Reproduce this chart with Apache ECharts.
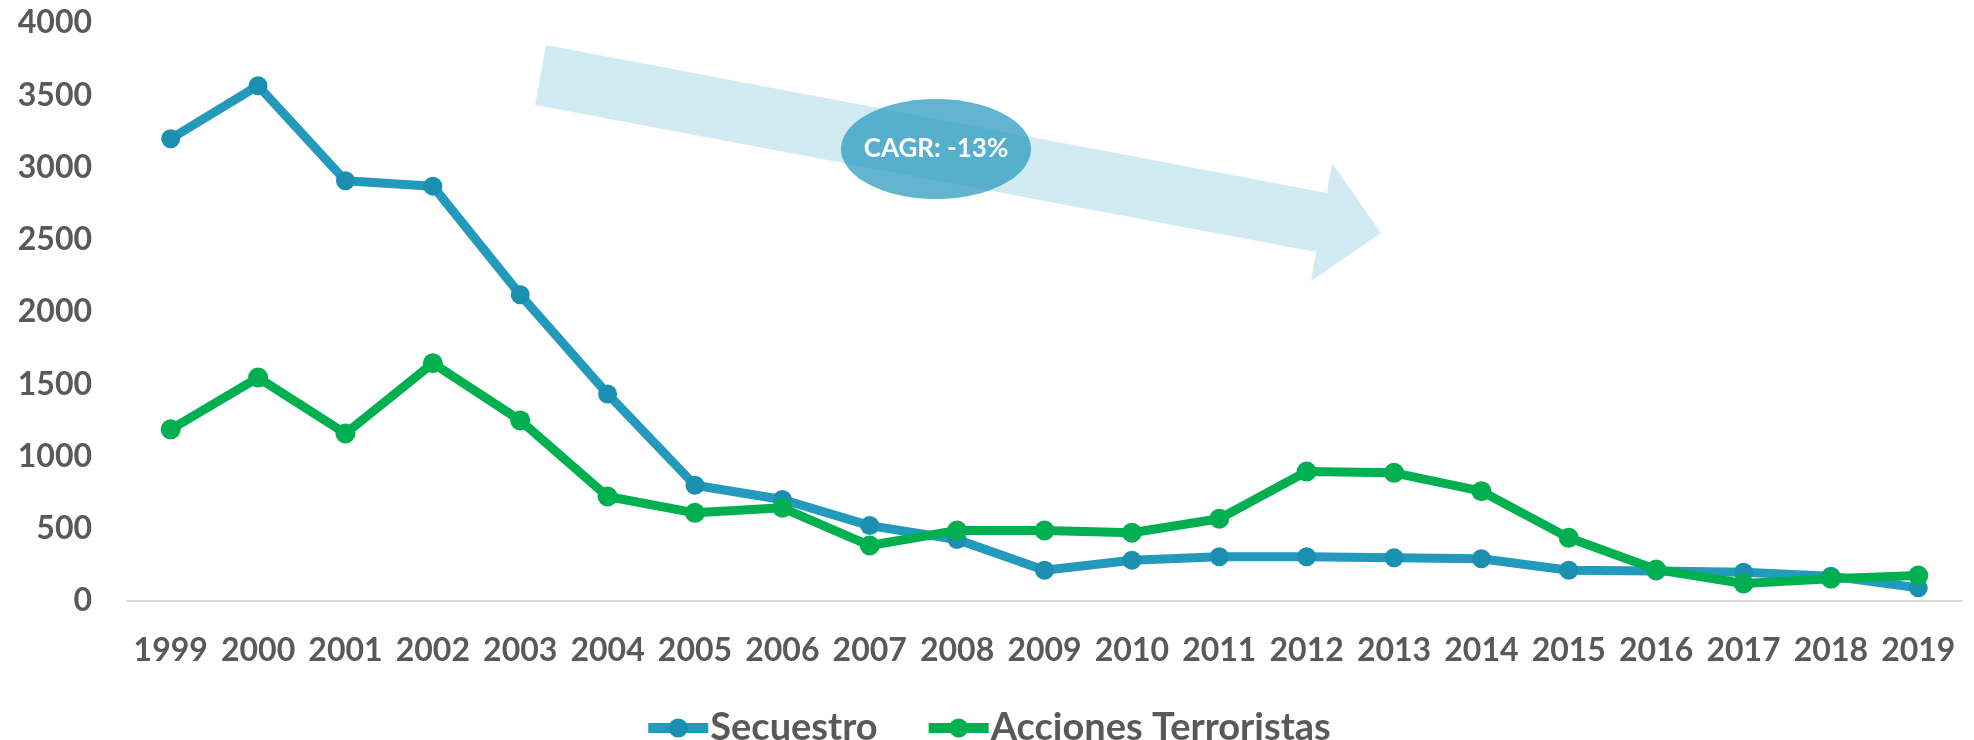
<!DOCTYPE html>
<html>
<head>
<meta charset="utf-8">
<script src="https://cdn.jsdelivr.net/npm/echarts@6/dist/echarts.min.js"></script>
<style>
html,body{margin:0;padding:0;background:#fff;}
#chart{width:1974px;height:740px;}
</style>
</head>
<body>
<div id="chart"></div>
<script>
const years = ['1999','2000','2001','2002','2003','2004','2005','2006','2007','2008','2009','2010','2011','2012','2013','2014','2015','2016','2017','2018','2019'];
const secuestro = [3199, 3566, 2908, 2871, 2120, 1433, 801, 702, 522, 426, 213, 282, 306, 306, 299, 292, 213, 207, 199, 172, 91];
const accionesTerroristas = [1188, 1546, 1159, 1645, 1250, 723, 610, 645, 384, 488, 488, 472, 569, 896, 887, 760, 437, 218, 121, 154, 176];
const seriesNames = ['Secuestro', 'Acciones Terroristas'];
const annotationText = 'CAGR: -13%';

const FONT = 'Lato, "Open Sans", sans-serif';
const chart = echarts.init(document.getElementById('chart'), null, {renderer: 'canvas'});

chart.setOption({
  animation: false,
  backgroundColor: '#ffffff',
  grid: {left: 127, right: 12, top: 23, bottom: 139, containLabel: false},
  xAxis: {
    type: 'category',
    data: years,
    boundaryGap: true,
    axisLine: {show: true, lineStyle: {color: '#D9D9D9', width: 2}},
    axisTick: {show: false},
    axisLabel: {color: '#595959', fontFamily: FONT, fontWeight: 'bold', fontSize: 32, margin: 34, interval: 0},
    splitLine: {show: false}
  },
  yAxis: {
    type: 'value',
    min: 0, max: 4000, interval: 500,
    axisLine: {show: false},
    axisTick: {show: false},
    splitLine: {show: false},
    axisLabel: {color: '#595959', fontFamily: FONT, fontWeight: 'bold', fontSize: 32, margin: 35,
      formatter: function (v) { return String(v); }}
  },
  legend: {
    data: seriesNames,
    left: 'center',
    top: 704,
    itemWidth: 60,
    itemHeight: 24,
    itemGap: 46,
    lineStyle: {width: 10},
    textStyle: {color: '#595959', fontFamily: FONT, fontWeight: 'bold', fontSize: 38, padding: [0,0,0,-3]}
  },
  graphic: [
    {
      type: 'polygon', z: 0, silent: true,
      shape: {points: [[546,45],[1327,193],[1332,163],[1381,233],[1311,281],[1316,252],[535,105]]},
      style: {fill: '#D2EBF3'}
    },
    {
      type: 'ellipse', z: 1, silent: true,
      shape: {cx: 936, cy: 149, rx: 95, ry: 50},
      style: {fill: 'rgba(33,150,186,0.7)'}
    },
    {
      type: 'text', z: 2, silent: true,
      x: 936, y: 149,
      style: {text: annotationText, fill: '#ffffff', font: 'bold 26px ' + FONT, align: 'center', verticalAlign: 'middle'}
    }
  ],
  series: [
    {
      name: seriesNames[0], type: 'line', data: secuestro,
      symbol: 'circle', symbolSize: 19,
      lineStyle: {color: '#2399BB', width: 9},
      itemStyle: {color: '#1B8FB0'},
      z: 3
    },
    {
      name: seriesNames[1], type: 'line', data: accionesTerroristas,
      symbol: 'circle', symbolSize: 20,
      lineStyle: {color: '#00B050', width: 9},
      itemStyle: {color: '#00B050'},
      z: 4
    }
  ]
});
</script>
</body>
</html>
